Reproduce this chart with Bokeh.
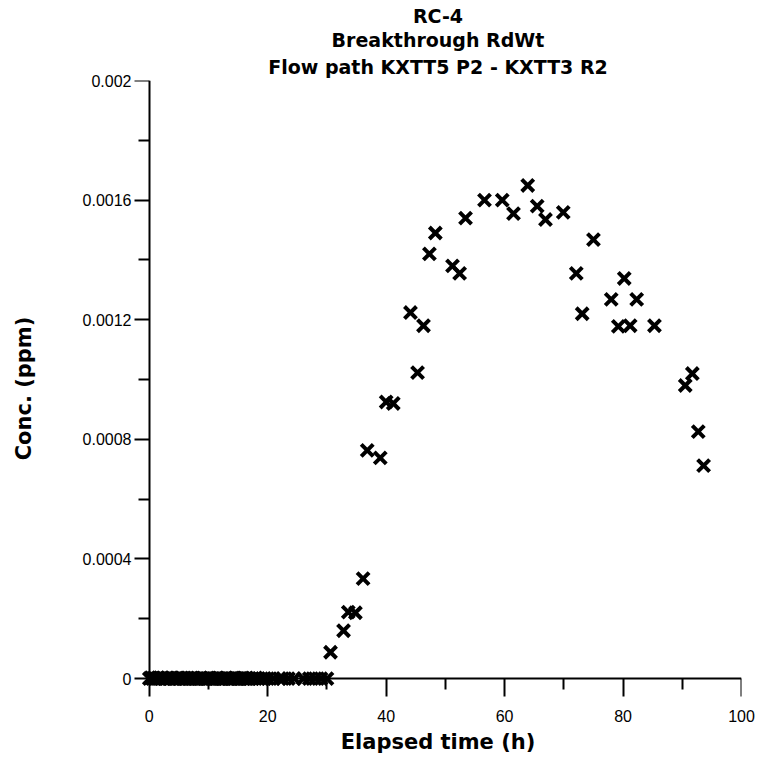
from bokeh.plotting import figure
from bokeh.models import Range1d, FixedTicker, Title, ColumnDataSource, LinearAxis
from bokeh.embed import file_html
from bokeh.resources import INLINE

# Early (pre-breakthrough) samples, all near zero
early_time_h = [0.0, 0.25, 0.5, 0.75, 1.0, 1.25, 1.5, 1.75, 2.0, 2.25, 2.5, 2.75,
                3.0, 3.25, 3.5, 3.75, 4.0, 4.25, 4.5, 4.75, 5.0, 5.25, 5.5, 5.75,
                6.0, 6.25, 6.5, 6.75, 7.0, 7.25, 7.5, 7.75, 8.0, 8.25, 8.5, 8.75,
                9.0, 9.25, 9.5, 9.75, 10.0, 10.25, 10.5, 10.75, 11.0, 11.25, 11.5, 11.75,
                12.0, 12.25, 12.5, 12.75, 13.0, 13.25, 13.5, 13.75, 14.0, 14.25, 14.5,
                14.75, 15.0, 15.25, 15.5, 15.75, 16.0, 16.25, 16.5, 16.75, 17.0, 17.5,
                18.0, 18.5, 19.0, 19.5, 20.0, 21.0, 22.0, 22.5, 23.5, 24.5, 26.0, 27.0,
                28.0, 29.0, 30.0]
early_conc_ppm = [0.0, 0.000003, 0.0, 0.000002, 0.0, 0.0, 0.000003, 0.0, 0.0, 0.000002,
                  0.0, 0.0, 0.000002, 0.0, 0.0, 0.000003, 0.0, 0.0, 0.0, 0.000002,
                  0.0, 0.0, 0.000002, 0.0, 0.0, 0.0, 0.000002, 0.0, 0.0, 0.0,
                  0.000002, 0.0, 0.0, 0.0, 0.0, 0.000002, 0.0, 0.0, 0.0, 0.0,
                  0.0, 0.000002, 0.0, 0.0, 0.0, 0.0, 0.000002, 0.0, 0.0, 0.0,
                  0.0, 0.0, 0.000002, 0.0, 0.0, 0.0, 0.0, 0.0, 0.000002, 0.0,
                  0.0, 0.0, 0.0, 0.000002, 0.0, 0.0, 0.0, 0.0, 0.0, 0.0,
                  0.000002, 0.0, 0.0, 0.0, 0.0, 0.0, 0.0, 0.0, 0.0, 0.0,
                  0.0, 0.0, 0.0, 0.0, 0.0]

# Breakthrough samples
bt_time_h = [30.6, 32.8, 33.6, 34.8, 36.1, 36.8, 39.0, 40.0, 41.2, 44.1, 45.3, 46.3,
             47.3, 48.3, 51.2, 52.4, 53.4, 56.6, 59.6, 61.5, 63.9, 65.5, 66.9, 69.9,
             72.1, 73.1, 75.0, 78.0, 79.2, 80.2, 81.2, 82.3, 85.3, 90.5, 91.7, 92.7, 93.6]
bt_conc_ppm = [0.000088, 0.00016, 0.000222, 0.00022, 0.000334, 0.000763, 0.000738,
               0.000925, 0.00092, 0.001224, 0.001023, 0.00118, 0.00142, 0.00149,
               0.00138, 0.001355, 0.00154, 0.0016, 0.0016, 0.001555, 0.001649,
               0.00158, 0.001535, 0.001559, 0.001355, 0.00122, 0.001468, 0.001268,
               0.001178, 0.001338, 0.00118, 0.001268, 0.00118, 0.00098, 0.00102,
               0.000826, 0.000712]

x_ticks = [0, 20, 40, 60, 80, 100]
x_minor = [10, 30, 50, 70, 90]
y_ticks = [0, 0.0004, 0.0008, 0.0012, 0.0016, 0.002]
y_tick_labels = ["0", "0.0004", "0.0008", "0.0012", "0.0016", "0.002"]
y_minor = [0.0002, 0.0006, 0.001, 0.0014, 0.0018]
title_lines = ["RC-4", "Breakthrough RdWt", "Flow path KXTT5 P2 - KXTT3 R2"]

TICK_FONT = "Liberation Sans"
BOLD_FONT = "DejaVu Sans"

p = figure(width=764, height=771, output_backend="svg", toolbar_location=None,
           x_range=Range1d(-2.5, 100), y_range=Range1d(-0.00006, 0.002),
           min_border_left=134, min_border_right=23, min_border_top=80,
           min_border_bottom=75)
p.outline_line_color = None
p.grid.visible = False
p.background_fill_color = "white"
p.border_fill_color = "white"

# Titles: p.title is the top line; the first added title ends up nearest the plot
p.title = Title(text=title_lines[0], align="center", offset=-21,
                text_font=BOLD_FONT, text_font_size="19px", text_font_style="bold",
                text_color="black", standoff=0)
p.add_layout(Title(text=title_lines[2], align="center", offset=-21, text_font=BOLD_FONT,
                   text_font_size="19px", text_font_style="bold",
                   text_color="black", standoff=6), "above")
p.add_layout(Title(text=title_lines[1], align="center", offset=-21, text_font=BOLD_FONT,
                   text_font_size="19px", text_font_style="bold",
                   text_color="black", standoff=0), "above")

# Label-only axes at the frame edges
xl = p.xaxis[0]
xl.ticker = FixedTicker(ticks=x_ticks, minor_ticks=[])
xl.axis_label = "Elapsed time (h)"
xl.major_label_standoff = 13
xl.axis_label_standoff = 5

yl = p.yaxis[0]
yl.ticker = FixedTicker(ticks=y_ticks, minor_ticks=[])
yl.major_label_overrides = {v: s for v, s in zip(y_ticks, y_tick_labels)}
yl.axis_label = "Conc. (ppm)"
yl.major_label_standoff = 3
yl.axis_label_standoff = 44

for ax in (xl, yl):
    ax.axis_line_color = None
    ax.major_tick_line_color = None
    ax.minor_tick_line_color = None
    ax.major_tick_in = 0
    ax.major_tick_out = 0
    ax.minor_tick_in = 0
    ax.minor_tick_out = 0
    ax.major_label_text_font = TICK_FONT
    ax.major_label_text_font_size = "16px"
    ax.major_label_text_color = "black"
    ax.axis_label_text_font = BOLD_FONT
    ax.axis_label_text_font_size = "21px"
    ax.axis_label_text_font_style = "bold"
    ax.axis_label_text_color = "black"

# Axis lines and ticks through the origin
xa = LinearAxis(fixed_location=0, bounds=(0, 100),
                ticker=FixedTicker(ticks=x_ticks, minor_ticks=x_minor))
ya = LinearAxis(fixed_location=0, bounds=(0, 0.002),
                ticker=FixedTicker(ticks=y_ticks, minor_ticks=y_minor))
for ax in (xa, ya):
    ax.axis_line_width = 2
    ax.axis_line_color = "black"
    ax.major_tick_line_width = 2
    ax.minor_tick_line_width = 2
    ax.major_tick_line_color = "black"
    ax.minor_tick_line_color = "black"
    ax.major_tick_in = 0
    ax.major_tick_out = 21
    ax.minor_tick_in = 0
    ax.minor_tick_out = 11
    ax.major_label_text_font_size = "0px"
    ax.major_label_text_alpha = 0
p.add_layout(xa, "below")
p.add_layout(ya, "left")

src_early = ColumnDataSource(data=dict(x=early_time_h, y=early_conc_ppm))
src_bt = ColumnDataSource(data=dict(x=bt_time_h, y=bt_conc_ppm))
for src in (src_early, src_bt):
    p.scatter("x", "y", source=src, marker="x", size=17, line_width=4,
              line_color="black")

open("out.html", "w").write(file_html(p, INLINE))
